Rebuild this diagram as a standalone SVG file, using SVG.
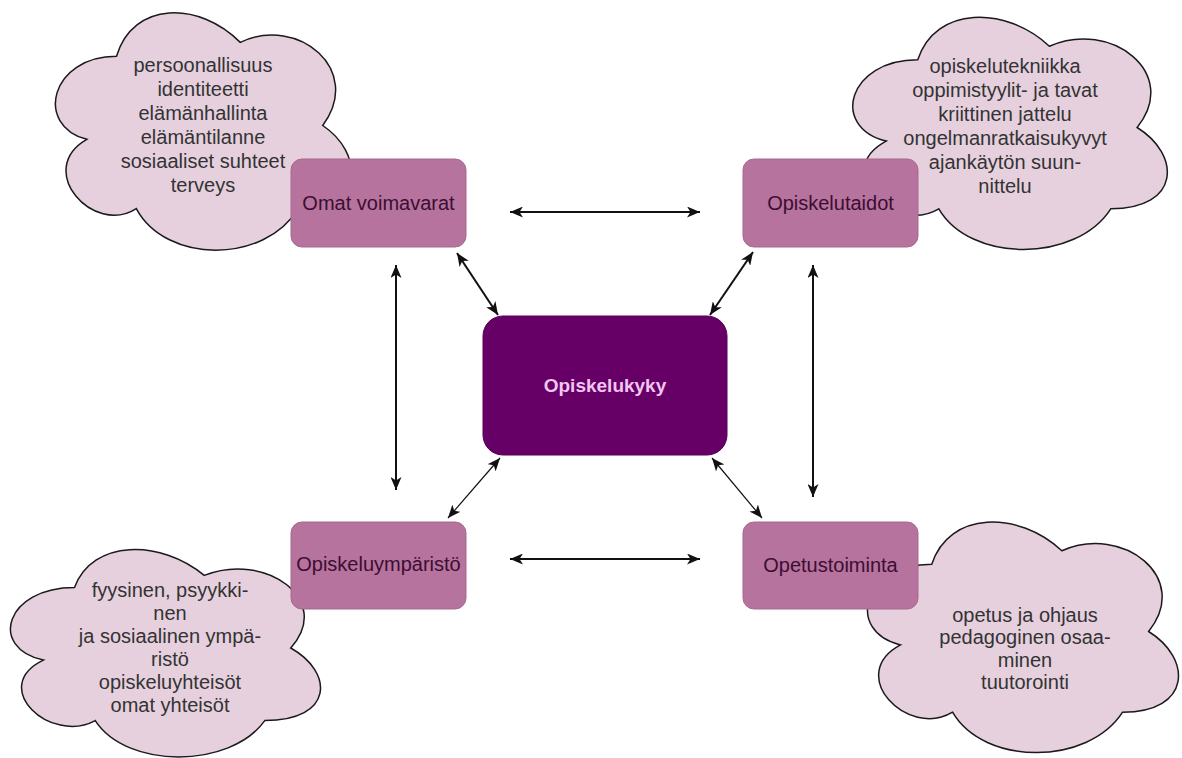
<svg xmlns="http://www.w3.org/2000/svg" width="1182" height="758" viewBox="0 0 1182 758">
<style>
.cloud{fill:#E6D0DE;stroke:#1a1a1a;stroke-width:1.5;vector-effect:non-scaling-stroke}
.box{fill:#B5739D;stroke:#a9688f;stroke-width:1}
.ctext{font-family:"Liberation Sans",Arial,sans-serif;font-size:20px;fill:#333333;text-anchor:middle}
.btext{font-family:"Liberation Sans",Arial,sans-serif;font-size:20px;fill:#3d0d33;text-anchor:middle;dominant-baseline:central}
.conn{stroke:#111;stroke-width:2;fill:none;marker-start:url(#arr);marker-end:url(#arr)}
.thin{stroke-width:1.2}
</style>
<defs>
<marker id="arr" markerUnits="userSpaceOnUse" markerWidth="13" markerHeight="11" refX="13" refY="5.5" orient="auto-start-reverse" viewBox="0 0 13 11">
<path d="M0,0 L13,5.5 L0,11 L3.5,5.5 Z" fill="#111"/>
</marker>
</defs>
<rect width="1182" height="758" fill="#ffffff"/>
<g id="cloud-omat">
<path class="cloud" transform="translate(34,-13) scale(3.30,2.77)" d="M25,25 C5,25 0,50 16,55 C0,66 18,90 31,80 C40,100 70,100 80,80 C100,80 100,60 87.5,50 C100,30 80,10 62.5,20 C50,5 30,5 25,25 Z"/>
<text class="ctext" x="203" y="72">persoonallisuus</text>
<text class="ctext" x="203" y="96">identiteetti</text>
<text class="ctext" x="203" y="120">elämänhallinta</text>
<text class="ctext" x="203" y="144">elämäntilanne</text>
<text class="ctext" x="203" y="168">sosiaaliset suhteet</text>
<text class="ctext" x="203" y="192">terveys</text>
</g>
<g id="cloud-taidot">
<path class="cloud" transform="translate(830,-8) scale(3.51,2.71)" d="M25,25 C5,25 0,50 16,55 C0,66 18,90 31,80 C40,100 70,100 80,80 C100,80 100,60 87.5,50 C100,30 80,10 62.5,20 C50,5 30,5 25,25 Z"/>
<text class="ctext" x="1005" y="73">opiskelutekniikka</text>
<text class="ctext" x="1005" y="97">oppimistyylit- ja tavat</text>
<text class="ctext" x="1005" y="121">kriittinen jattelu</text>
<text class="ctext" x="1005" y="145">ongelmanratkaisukyvyt</text>
<text class="ctext" x="1005" y="169">ajankäytön suun-</text>
<text class="ctext" x="1005" y="193">nittelu</text>
</g>
<g id="cloud-ymparisto">
<path class="cloud" transform="translate(-12,527) scale(3.46,2.42)" d="M25,25 C5,25 0,50 16,55 C0,66 18,90 31,80 C40,100 70,100 80,80 C100,80 100,60 87.5,50 C100,30 80,10 62.5,20 C50,5 30,5 25,25 Z"/>
<text class="ctext" x="170" y="597">fyysinen, psyykki-</text>
<text class="ctext" x="170" y="620">nen</text>
<text class="ctext" x="170" y="643">ja sosiaalinen ympä-</text>
<text class="ctext" x="170" y="666">ristö</text>
<text class="ctext" x="170" y="689">opiskeluyhteisöt</text>
<text class="ctext" x="170" y="712">omat yhteisöt</text>
</g>
<g id="cloud-opetus">
<path class="cloud" transform="translate(845,497) scale(3.47,2.69)" d="M25,25 C5,25 0,50 16,55 C0,66 18,90 31,80 C40,100 70,100 80,80 C100,80 100,60 87.5,50 C100,30 80,10 62.5,20 C50,5 30,5 25,25 Z"/>
<text class="ctext" x="1025" y="622">opetus ja ohjaus</text>
<text class="ctext" x="1025" y="644">pedagoginen osaa-</text>
<text class="ctext" x="1025" y="667">minen</text>
<text class="ctext" x="1025" y="689">tuutorointi</text>
</g>
<g id="node-omat">
<rect class="box" x="291" y="159" width="175" height="88" rx="11"/>
<text class="btext" x="378.5" y="203">Omat voimavarat</text>
</g>
<g id="node-taidot">
<rect class="box" x="743" y="159" width="175" height="88" rx="11"/>
<text class="btext" x="830.5" y="203">Opiskelutaidot</text>
</g>
<g id="node-ymparisto">
<rect class="box" x="291" y="522" width="175" height="87" rx="11"/>
<text class="btext" x="378.5" y="564">Opiskeluympäristö</text>
</g>
<g id="node-opetus">
<rect class="box" x="743" y="522" width="175" height="87" rx="11"/>
<text class="btext" x="830.5" y="565">Opetustoiminta</text>
</g>
<g id="node-center">
<rect x="483" y="316" width="244" height="139" rx="20" fill="#660066" stroke="#570057" stroke-width="1"/>
<text x="605" y="385" font-family="'Liberation Sans',Arial,sans-serif" font-size="19px" font-weight="bold" fill="#f2c6f0" text-anchor="middle" dominant-baseline="central">Opiskelukyky</text>
</g>
<g id="connectors">
<line class="conn" x1="510" y1="212" x2="700" y2="212"/>
<line class="conn" x1="510" y1="559" x2="700" y2="559"/>
<line class="conn" x1="396" y1="265" x2="396" y2="490"/>
<line class="conn" x1="813" y1="265" x2="813" y2="497"/>
<line class="conn" x1="457" y1="253" x2="498" y2="315"/>
<line class="conn" x1="753" y1="252" x2="710" y2="315"/>
<line class="conn thin" x1="500" y1="458" x2="448" y2="518"/>
<line class="conn thin" x1="712" y1="458" x2="762" y2="518"/>
</g>
</svg>
